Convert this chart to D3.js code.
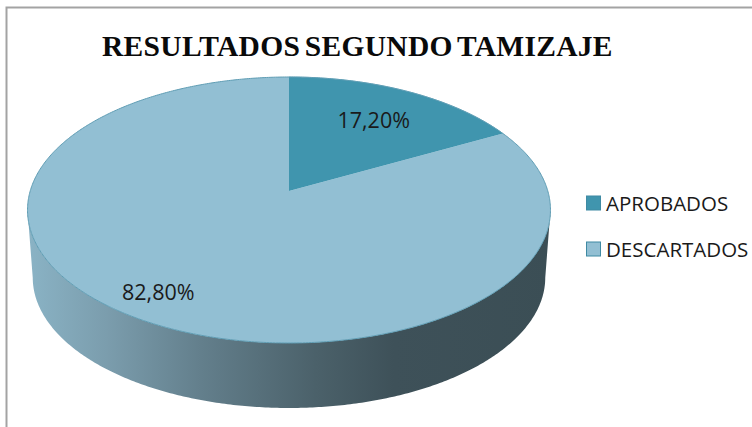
<!DOCTYPE html>
<html>
<head>
<meta charset="utf-8">
<script src="https://cdn.jsdelivr.net/npm/d3@7"></script>
<style>
    html, body { margin: 0; padding: 0; background: #fff; overflow: hidden; }
    svg { display: block; }
    .title { font-family: "Liberation Serif"; font-weight: bold; font-size: 29.5px; fill: #0a0a0a; letter-spacing: 0.3px; word-spacing: -3px; }
    .pct, .legend-label { font-family: "Open Sans"; fill: #1a1a1a; }
    .pct { font-size: 21.5px; }
    .legend-label { font-size: 20.5px; }
</style>
</head>
<body>
<div id="chart"></div>
<script>
const title = "RESULTADOS SEGUNDO TAMIZAJE";
const categories = ["APROBADOS", "DESCARTADOS"];
const values = [17.2, 82.8];
const valueLabels = ["17,20%", "82,80%"];
const colours = ["#4095ae", "#92bfd3"];

const width = 752, height = 427;

// pie is drawn on a tilted plane, so the near half is bigger than the far half
const pieCentre = {x: 289, y: 191};
const radiusX = 258.8, radiusY = 130.3, tilt = 0.1429;
const depth = 68, floorScale = 0.98;
const labelRadius = [0.69, 0.81];
const labelShift = [0, -11];

const svg = d3.select("#chart").append("svg")
    .attr("width", width)
    .attr("height", height);

const defs = svg.append("defs");
const sideGradient = defs.append("linearGradient")
    .attr("id", "side")
    .attr("gradientUnits", "userSpaceOnUse")
    .attr("x1", 28).attr("x2", 551).attr("y1", 0).attr("y2", 0);
[[0, "#8ab3c5"], [0.15, "#7b9dad"], [0.33, "#637f8c"], [0.55, "#4b616a"], [0.7, "#3e5159"], [1, "#3b4e55"]]
    .forEach(s => sideGradient.append("stop").attr("offset", s[0]).attr("stop-color", s[1]));

// frame, only top and left survive in the picture
svg.append("path")
    .attr("d", "M6.5,427V7.5H752")
    .attr("fill", "none")
    .attr("stroke", "#a3a3a3")
    .attr("stroke-width", 2);

svg.append("text")
    .attr("class", "title")
    .attr("x", 102)
    .attr("y", 56)
    .text(title);

function project(angle, r = 1, floor = false) {
    const px = Math.sin(angle) * r, py = -Math.cos(angle) * r;
    const w = 1 - tilt * py;
    const s = floor ? floorScale : 1;
    return [
	pieCentre.x + s * radiusX * px / w,
	pieCentre.y + (floor ? depth : 0) + s * radiusY * py / w
    ];
}

function rim(a0, a1, floor = false) {
    const n = Math.max(2, Math.ceil(Math.abs(a1 - a0) / 0.01));
    return d3.range(n + 1).map(i => project(a0 + (a1 - a0) * i / n, 1, floor));
}

const line = d3.line();
const arcs = d3.pie().sort(null)(values);

// the wall runs between the two widest points of the ellipse
const right = Math.PI / 2 + Math.asin(tilt), left = 2 * Math.PI - right;
svg.append("path")
    .attr("class", "wall")
    .attr("d", line([...rim(right, left), ...rim(left, right, true)]) + "Z")
    .attr("fill", "url(#side)");

svg.selectAll(".slice")
    .data(arcs)
    .join("path")
    .attr("class", "slice")
    .attr("d", d => line([[pieCentre.x, pieCentre.y], ...rim(d.startAngle, d.endAngle)]) + "Z")
    .attr("fill", (d, i) => colours[i])
    .attr("stroke", (d, i) => i ? "none" : colours[i])
    .attr("stroke-width", 0.5);

// thin darker edge around the lid
svg.append("path")
    .attr("d", line(rim(0, 2 * Math.PI)) + "Z")
    .attr("fill", "none")
    .attr("stroke", "#5f9db4")
    .attr("stroke-width", 1);

svg.selectAll(".pct")
    .data(arcs)
    .join("text")
    .attr("class", "pct")
    .attr("text-anchor", "middle")
    .attr("dominant-baseline", "central")
    .attr("x", (d, i) => project((d.startAngle + d.endAngle) / 2, labelRadius[i])[0] + labelShift[i])
    .attr("y", (d, i) => project((d.startAngle + d.endAngle) / 2, labelRadius[i])[1])
    .text((d, i) => valueLabels[i]);

const legendY = d3.scalePoint().domain(categories).range([203, 249]);
const legendItems = svg.selectAll(".legend-item")
    .data(categories)
    .join("g")
    .attr("class", "legend-item")
    .attr("transform", d => `translate(586, ${legendY(d)})`);

legendItems.append("rect")
    .attr("x", 0.5)
    .attr("y", -7)
    .attr("width", 14)
    .attr("height", 14)
    .attr("fill", (d, i) => colours[i])
    .attr("stroke", "#3f8aa3")
    .attr("stroke-width", 1);

legendItems.append("text")
    .attr("class", "legend-label")
    .attr("x", 20)
    .attr("dominant-baseline", "central")
    .text(d => d);
</script>
</body>
</html>
